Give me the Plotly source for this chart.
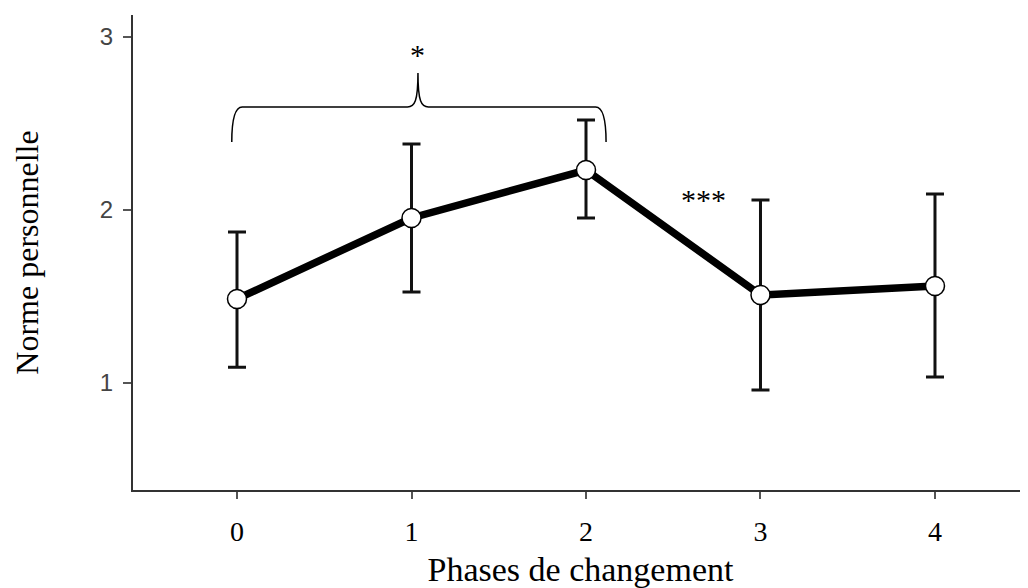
import plotly.graph_objects as go

# Données
phases = [0, 1, 2, 3, 4]
moyennes = [1.486, 1.954, 2.231, 1.509, 1.561]
borne_haute = [1.873, 2.382, 2.520, 2.058, 2.092]
borne_basse = [1.092, 1.526, 1.954, 0.960, 1.035]

err_plus = [h - m for h, m in zip(borne_haute, moyennes)]
err_moins = [m - b for m, b in zip(moyennes, borne_basse)]

fig = go.Figure()

# barres d'erreur seules
fig.add_trace(go.Scatter(
    x=phases, y=moyennes, mode='markers',
    marker=dict(size=1, color='rgba(0,0,0,0)'),
    error_y=dict(type='data', symmetric=False, array=err_plus, arrayminus=err_moins,
                 color='#111111', thickness=3, width=9),
    showlegend=False, hoverinfo='skip'
))

# ligne + points
fig.add_trace(go.Scatter(
    x=phases, y=moyennes, mode='lines+markers',
    line=dict(color='black', width=7.5),
    marker=dict(size=19, color='white', line=dict(color='black', width=1.5)),
    showlegend=False
))

# accolade au-dessus des phases 0 à 2
xl, xr, xm = -0.03, 2.115, 1.037
yb, yh, yp = 2.393, 2.595, 2.792
path = (f"M {xl},{yb} C {xl},{yh - 0.1} {xl + 0.01},{yh} {xl + 0.06},{yh} "
        f"L {xm - 0.06},{yh} C {xm - 0.02},{yh} {xm},{yh + 0.03} {xm},{yp} "
        f"C {xm},{yh + 0.03} {xm + 0.02},{yh} {xm + 0.06},{yh} "
        f"L {xr - 0.06},{yh} C {xr - 0.01},{yh} {xr},{yh - 0.1} {xr},{yb}")
fig.add_shape(type='path', path=path, xref='x', yref='y',
              line=dict(color='black', width=1.5))

fig.add_annotation(x=xm, y=2.90, text='*', showarrow=False,
                   font=dict(family='Liberation Serif', size=30, color='black'))
fig.add_annotation(x=2.675, y=2.06, text='***', showarrow=False,
                   font=dict(family='Liberation Serif', size=30, color='black'))

# la page ajoute ~8 px de marge autour de la figure
fig.update_layout(
    width=1020, height=580,
    margin=dict(l=125, r=0, t=7, b=98),
    plot_bgcolor='white', paper_bgcolor='white',
    xaxis=dict(
        range=[-0.596, 4.533], tickvals=phases, ticktext=[str(p) for p in phases],
        automargin=False,
        showgrid=False, zeroline=False, showline=True, linecolor='#333333', linewidth=2,
        ticks='outside', ticklen=7, tickwidth=2, tickcolor='#555555',
        ticklabelstandoff=8,
        tickfont=dict(family='Liberation Serif', size=28, color='black'),
        title=dict(text='Phases de changement', standoff=22,
                   font=dict(family='Liberation Serif', size=34, color='black')),
    ),
    yaxis=dict(
        range=[0.382, 3.127], tickvals=[1, 2, 3],
        automargin=False,
        showgrid=False, zeroline=False, showline=True, linecolor='#333333', linewidth=2,
        ticks='outside', ticklen=8, tickwidth=2, tickcolor='#555555',
        ticklabelstandoff=5,
        tickfont=dict(family='Liberation Sans', size=24, color='#444444'),
        title=dict(text='Norme personnelle', standoff=52,
                   font=dict(family='Liberation Serif', size=32, color='black')),
    ),
)

fig.write_html("out.html")
